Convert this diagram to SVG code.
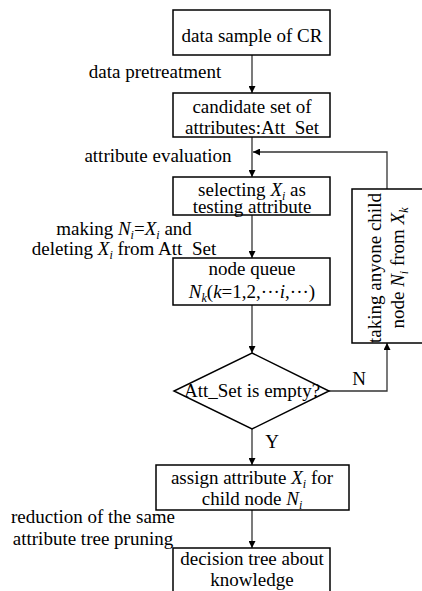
<svg xmlns="http://www.w3.org/2000/svg" width="422" height="591" viewBox="0 0 422 591">
<style>
.box{fill:#fff;stroke:#000;stroke-width:1.5}
.ln{fill:none;stroke:#333;stroke-width:1.3}
</style>
<defs>
<marker id="ah" viewBox="0 0 10 10" refX="10" refY="5" markerWidth="7" markerHeight="7" markerUnits="userSpaceOnUse" orient="auto">
<path d="M0,0 L10,5 L0,10 z" fill="#000"/>
</marker>
</defs>
<g id="connectors">
<path class="ln" d="M252,55 V93" marker-end="url(#ah)"/>
<path class="ln" d="M252,137 V177" marker-end="url(#ah)"/>
<path class="ln" d="M252,215 V258" marker-end="url(#ah)"/>
<path class="ln" d="M252,305 V353" marker-end="url(#ah)"/>
<path class="ln" d="M252,429 V465" marker-end="url(#ah)"/>
<path class="ln" d="M252,510 V548" marker-end="url(#ah)"/>
<path class="ln" d="M387,189 V152 H253" marker-end="url(#ah)"/>
<path class="ln" d="M329,391 H387 V343" marker-end="url(#ah)"/>
</g>
<g id="n1">
<rect class="box" x="173" y="10" width="157" height="45"/>
<text style="font-family:'Liberation Serif',serif;font-size:19px" text-anchor="middle" x="252" y="42">data sample of CR</text>
</g>
<g id="n2">
<rect class="box" x="173" y="93" width="157" height="44"/>
<text style="font-family:'Liberation Serif',serif;font-size:19px" text-anchor="middle" x="252" y="113">candidate set of</text>
<text style="font-family:'Liberation Serif',serif;font-size:19px" text-anchor="middle" x="252" y="134">attributes:Att&#160; Set</text>
</g>
<g id="n3">
<rect class="box" x="173" y="177" width="157" height="38"/>
<text style="font-family:'Liberation Serif',serif;font-size:19px" text-anchor="middle" x="252" y="196">selecting <tspan font-style="italic">X</tspan><tspan font-style="italic" font-size="12" dy="4">i</tspan><tspan dy="-4"> as</tspan></text>
<text style="font-family:'Liberation Serif',serif;font-size:19px" text-anchor="middle" x="252" y="213">testing attribute</text>
</g>
<g id="n4">
<rect class="box" x="173" y="258" width="157" height="47"/>
<text style="font-family:'Liberation Serif',serif;font-size:19px" text-anchor="middle" x="252" y="275">node queue</text>
<text style="font-family:'Liberation Serif',serif;font-size:19px" text-anchor="middle" x="252" y="298"><tspan font-style="italic">N</tspan><tspan font-style="italic" font-size="12" dy="4">k</tspan><tspan dy="-4">(</tspan><tspan font-style="italic">k</tspan>=1,2,···<tspan font-style="italic">i</tspan>,···)</text>
</g>
<g id="n5">
<path class="box" d="M252,353 L329,391 L252,429 L174,391 Z"/>
<text style="font-family:'Liberation Serif',serif;font-size:19px" text-anchor="middle" x="252" y="397">Att_Set is empty?</text>
</g>
<g id="n6">
<rect class="box" x="352" y="189" width="72" height="154"/>
<text style="font-family:'Liberation Serif',serif;font-size:19px" text-anchor="middle" transform="translate(381,268) rotate(-90)">taking anyone child</text>
<text style="font-family:'Liberation Serif',serif;font-size:19px" text-anchor="middle" transform="translate(404,268) rotate(-90)">node <tspan font-style="italic">N</tspan><tspan font-style="italic" font-size="12" dy="4">i</tspan><tspan dy="-4"> from </tspan><tspan font-style="italic">X</tspan><tspan font-style="italic" font-size="12" dy="4">k</tspan></text>
</g>
<g id="n7">
<rect class="box" x="156" y="465" width="193" height="45"/>
<text style="font-family:'Liberation Serif',serif;font-size:19px" text-anchor="middle" x="252" y="484">assign attribute <tspan font-style="italic">X</tspan><tspan font-style="italic" font-size="12" dy="4">i</tspan><tspan dy="-4"> for</tspan></text>
<text style="font-family:'Liberation Serif',serif;font-size:19px" text-anchor="middle" x="252" y="505">child node <tspan font-style="italic">N</tspan><tspan font-style="italic" font-size="12" dy="4">i</tspan></text>
</g>
<g id="n8">
<rect class="box" x="173" y="548" width="157" height="46"/>
<text style="font-family:'Liberation Serif',serif;font-size:19px" text-anchor="middle" x="252" y="565">decision tree about</text>
<text style="font-family:'Liberation Serif',serif;font-size:19px" text-anchor="middle" x="252" y="586">knowledge</text>
</g>
<g id="labels">
<text style="font-family:'Liberation Serif',serif;font-size:19px" text-anchor="middle" x="155" y="78">data pretreatment</text>
<text style="font-family:'Liberation Serif',serif;font-size:19px" text-anchor="middle" x="158" y="162">attribute evaluation</text>
<text style="font-family:'Liberation Serif',serif;font-size:19px" text-anchor="middle" x="124" y="235">making <tspan font-style="italic">N</tspan><tspan font-style="italic" font-size="12" dy="4">i</tspan><tspan dy="-4">=</tspan><tspan font-style="italic">X</tspan><tspan font-style="italic" font-size="12" dy="4">i</tspan><tspan dy="-4"> and</tspan></text>
<text style="font-family:'Liberation Serif',serif;font-size:19px" text-anchor="middle" x="124" y="255">deleting <tspan font-style="italic">X</tspan><tspan font-style="italic" font-size="12" dy="4">i</tspan><tspan dy="-4"> from Att&#160; Set</tspan></text>
<text style="font-family:'Liberation Serif',serif;font-size:19px" text-anchor="middle" x="359" y="385">N</text>
<text style="font-family:'Liberation Serif',serif;font-size:19px" text-anchor="middle" x="272" y="448">Y</text>
<text style="font-family:'Liberation Serif',serif;font-size:19px" text-anchor="middle" x="93" y="523">reduction of the same</text>
<text style="font-family:'Liberation Serif',serif;font-size:19px" text-anchor="middle" x="93" y="545">attribute tree pruning</text>
</g>
</svg>
